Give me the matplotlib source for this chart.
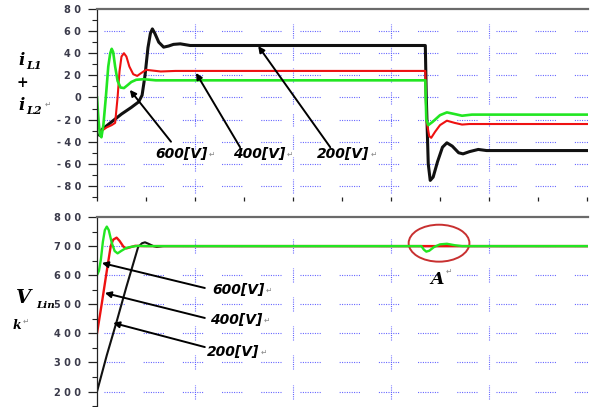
import numpy as np
import matplotlib.pyplot as plt
from matplotlib.patches import Ellipse

## data : courant i_L1+i_L2 (haut) et tension V_Link (bas), pour 3 tensions initiales ##
ticks_top = [80, 60, 40, 20, 0, -20, -40, -60, -80]
ticks_low = [800, 700, 600, 500, 400, 300, 200]

t_g1 = [0, 0.03, 0.06, 0.09, 0.13, 0.18, 0.23, 0.27, 0.30, 0.33, 0.37, 0.42, 0.48, 0.55, 0.62, 0.70, 0.80, 0.95, 1.2, 1.6,
        6.70, 6.72, 6.76, 6.85, 7.0, 7.14, 7.3, 7.45, 7.65, 10.02]
i_g1 = [0, -20, -34, -36, -25, 0, 28, 40, 44, 41, 28, 15, 9, 8.5, 11, 14, 16, 16.5, 15.5, 15.5,
        15.5, -20, -25, -22, -16, -13.5, -15, -16.5, -15.5, -15.5]

t_r1 = [0.06, 0.1, 0.2, 0.3, 0.37, 0.42, 0.46, 0.5, 0.55, 0.6, 0.66, 0.74, 0.82, 0.9, 1.0, 1.1, 1.3, 1.6,
        6.70, 6.72, 6.78, 6.82, 6.9, 7.0, 7.14, 7.3, 7.45, 7.6, 10.02]
i_r1 = [-32, -30, -27, -25, -23, 0, 24, 37, 40, 37, 28, 21, 19.5, 22, 25, 24.5, 23.5, 24,
        24, -20, -35, -36.5, -31, -25, -21, -23, -24.5, -24, -24]

t_k1 = [0.05, 0.1, 0.3, 0.5, 0.7, 0.85, 0.92, 0.98, 1.04, 1.09, 1.13, 1.18, 1.26, 1.36, 1.46, 1.56, 1.7, 1.9, 2.2,
        6.70, 6.72, 6.76, 6.8, 6.86, 6.95, 7.05, 7.14, 7.25, 7.38, 7.47, 7.6, 7.78, 7.95, 10.02]
i_k1 = [-34, -29, -22, -15, -9, -4, 2, 20, 45, 58, 62, 58, 50, 45.5, 46.5, 48, 48.5, 47, 47,
        47, 0, -60, -75, -72, -58, -45, -41, -44, -50, -51, -49, -47, -48, -48]

t_g2 = [0, 0.04, 0.08, 0.12, 0.16, 0.2, 0.24, 0.3, 0.36, 0.42, 0.5, 0.6, 0.71, 0.85, 1.0,
        6.62, 6.67, 6.72, 6.78, 6.88, 7.0, 7.14, 7.3, 7.45, 10.02]
v_g2 = [600, 615, 655, 715, 755, 767, 755, 712, 683, 675, 684, 694, 698, 701, 700,
        700, 688, 681, 684, 697, 706, 708, 703, 700, 700]

t_r2 = [0, 0.1, 0.2, 0.28, 0.33, 0.4, 0.46, 0.54, 0.6, 0.68, 0.78, 0.9, 10.02]
v_r2 = [400, 505, 615, 700, 722, 729, 718, 698, 692, 696, 701, 700, 700]

t_k2 = [0, 0.2, 0.4, 0.6, 0.84, 0.92, 0.98, 1.05, 1.15, 1.22, 1.35, 10.02]
v_k2 = [200, 325, 440, 560, 697, 710, 713, 708, 700, 697, 700, 700]

labels = ["600[V]", "400[V]", "200[V]"]

GREEN, RED, BLACK = "#22e622", "#ee1111", "#111111"
GRID = "#5a5aff"
TXT = "#3a3a4a"

fig = plt.figure(figsize=(5.9, 4.07), dpi=100)
W, H = 590, 407
ax1 = fig.add_axes([97/W, 1-197/H, 491/W, 188/H])
ax2 = fig.add_axes([97/W, 0, 491/W, 190/H])

def spaced(v):
    s = " ".join(str(abs(v)))
    return ("- " + s) if v < 0 else s

def habille(ax, ticks, ylim, minor):
    ax.set_xlim(0, 10.02)
    ax.set_ylim(*ylim)
    for s in ["right", "bottom"]:
        ax.spines[s].set_visible(False)
    ax.spines["top"].set_color("#6a6a6a")
    ax.spines["top"].set_linewidth(1.6)
    ax.spines["left"].set_color("#222222")
    ax.spines["left"].set_linewidth(0.9)
    ax.set_yticks(ticks)
    ax.set_yticklabels([spaced(v) for v in ticks], fontsize=7, fontweight="bold",
                       color=TXT, family="DejaVu Sans")
    ax.set_yticks(minor, minor=True)
    ax.tick_params(axis="y", which="major", length=6.5, width=0.9, pad=5, color="#222222")
    ax.tick_params(axis="y", which="minor", length=3.5, width=0.8, color="#222222")
    # grille pointillée interrompue
    motif = (0, [0.9, 1.26]*8 + [0.9, 17.1])
    for y in ticks[1:]:
        ax.plot([0.15, 10.02], [y, y], color=GRID, lw=0.8, linestyle=motif, zorder=0)
    dy = (ylim[1]-ylim[0]) / 190 * 7
    for x in [2, 4, 6, 8]:
        for y in ticks[1:]:
            ax.plot([x, x], [y-dy, y+dy], color=GRID, lw=0.8, linestyle=(0, (0.9, 1.1)), zorder=0)

habille(ax1, ticks_top, (-89.3, 80), np.arange(-90, 81, 10))
habille(ax2, ticks_low, (147, 800), np.arange(150, 801, 50))
ax1.set_xticks(range(0, 11))
ax1.set_xticklabels([])
ax1.tick_params(axis="x", length=3, width=0.9, color="#222222")
ax2.set_xticks([])

## courbes ##
ax1.plot(t_k1, i_k1, color=BLACK, lw=2.2, solid_joinstyle="round")
ax1.plot(t_r1, i_r1, color=RED, lw=1.5)
ax1.plot(t_g1, i_g1, color=GREEN, lw=1.9)
ax2.plot(t_k2, v_k2, color=BLACK, lw=1.5)
ax2.plot(t_r2, v_r2, color=RED, lw=1.7)
ax2.plot(t_g2, v_g2, color=GREEN, lw=1.7)

## fleches et etiquettes ##
fl = dict(arrowstyle="-|>", color="black", lw=1.4, mutation_scale=9, shrinkA=0, shrinkB=0)
top_arr = [((0.67, 6.9), (1.51, -40)), ((2.02, 22.2), (2.92, -45)), ((3.29, 46.5), (4.76, -45))]
top_txt = [(1.18, -51.5), (2.78, -51.5), (4.49, -51.5)]
low_arr = [((0.10, 642), (2.2, 556)), ((0.16, 539), (2.2, 453)), ((0.33, 436), (2.2, 353))]
low_txt = [(2.35, 549), (2.31, 446), (2.24, 336)]

for ax, arr, pos in [(ax1, top_arr, top_txt), (ax2, low_arr, low_txt)]:
    for (tete, queue), (x, y), lab in zip(arr, pos, labels):
        ax.annotate("", xy=tete, xytext=queue, arrowprops=fl)
        t = ax.text(x, y, lab, fontsize=10, fontweight="bold", style="italic",
                    family="DejaVu Sans", va="center", ha="left")
        ax.annotate("\u21b5", xy=(1, 0.5), xycoords=t, xytext=(1, 0), textcoords="offset points",
                    fontsize=5.5, color="#888888", va="center", ha="left")

ax2.add_patch(Ellipse((6.98, 710), 1.24, 127, fill=False, edgecolor="#c83030", lw=1.4))
ax2.text(6.94, 800-(284-217)*3.435, "A", fontsize=12.5, fontweight="bold", style="italic",
         family="DejaVu Serif", ha="center", va="baseline")
ax2.text(7.17, 800-(271-217)*3.435, "\u21b5", fontsize=5.5, color="#888888", ha="center", va="center")

## noms des axes ##
def ft(x, y, s, size, **kw):
    fig.text(x/W, 1-y/H, s, fontsize=size, family="DejaVu Serif", fontweight="bold",
             style="italic", va="baseline", **kw)

ft(18, 65, "i", 12)
ft(26, 69, "L1", 8)
ft(17, 87, "+", 10)
ft(18, 110, "i", 12)
ft(26, 114, "L2", 8)
fig.text(45/W, 1-104/H, "\u21b5", fontsize=5.5, color="#888888", va="center")
ft(16, 303, "V", 14)
ft(36, 308, "Lin", 7.5)
ft(13, 329, "k", 9)
fig.text(23/W, 1-321/H, "\u21b5", fontsize=5.5, color="#888888", va="center")

plt.savefig("out.png", dpi=100)
